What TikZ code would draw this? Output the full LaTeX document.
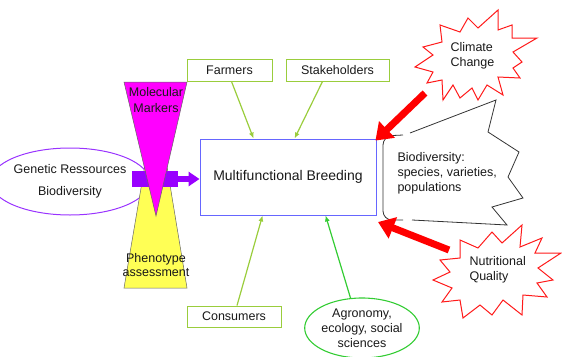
\documentclass[tikz,border=0pt]{standalone}
\usepackage{fontspec}
\setmainfont{Liberation Sans}
\usetikzlibrary{arrows.meta,shapes.geometric}
\definecolor{lgreen}{HTML}{9ACD3C}
\definecolor{bgreen}{HTML}{33CC33}
\definecolor{mblue}{HTML}{6666FF}
\definecolor{epurple}{HTML}{9933FF}
\definecolor{bpurple}{HTML}{9900FF}
\definecolor{mag}{HTML}{FF00FF}
\definecolor{yel}{HTML}{FFFF55}
\definecolor{rred}{HTML}{FF1A1A}
\tikzset{
  lbl/.style={font=\fontsize{12.5}{15}\selectfont, text=black!90},
  gbox/.style={draw=lgreen, line width=0.9pt, rectangle, lbl, inner sep=0pt},
  garrow/.style={draw=lgreen, line width=1.2pt, -{Latex[length=6pt,width=5pt]}},
  redarrow/.style={draw=red, line width=7pt, -{Triangle[length=16pt,width=22pt]}},
  burst/.style={draw=rred, line width=1pt, fill=white, line join=miter},
}
\begin{document}
\begin{tikzpicture}[x=1pt,y=-1pt]
\useasboundingbox (0,0) rectangle (562,356);

% main box
\node[draw=mblue, line width=0.9pt, minimum width=176pt, minimum height=76pt, inner sep=0pt,
      font=\fontsize{14}{17}\selectfont, text=black!90] (main) at (288,177) {Multifunctional Breeding};

% top boxes
\node[gbox, minimum width=85pt, minimum height=22pt] (farmers) at (229.5,70) {Farmers};
\node[gbox, minimum width=103pt, minimum height=22pt] (stake) at (337.5,70) {Stakeholders};
% bottom
\node[gbox, minimum width=94pt, minimum height=21pt] (cons) at (234,316.5) {Consumers};
\node[ellipse, draw=bgreen, line width=1.1pt, minimum width=108pt, minimum height=60pt, inner sep=0pt,
      lbl, align=center] (agro) at (362,328) {Agronomy,\\ecology, social\\sciences};

% green arrows
\draw[garrow] ([xshift=2pt]farmers.south) -- ([xshift=54pt]main.north west);
\draw[garrow] ([xshift=-15pt]stake.south) -- ([xshift=95pt]main.north west);
\draw[garrow] ([xshift=3pt]cons.north) -- ([xshift=63pt]main.south west);
\draw[draw=bgreen, line width=1.2pt, -{Latex[length=6pt,width=5pt]}] (agro.111) -- ([xshift=126pt]main.south west);

% genetic ellipse
\node[ellipse, draw=epurple, line width=1pt, minimum width=126pt, minimum height=67pt, inner sep=0pt,
      font=\fontsize{12.5}{22}\selectfont, text=black!90, align=center] (gen) at (70,181.5) {Genetic Ressources\\Biodiversity};

% yellow triangle
\filldraw[fill=yel, draw=black!60, line width=0.5pt] (124,288) -- (187,288) -- (156,100) -- cycle;
% purple bar and arrow
\node[fill=bpurple, minimum width=46pt, minimum height=16pt, inner sep=0pt] (bar) at (155,179) {};
\draw[draw=bpurple, line width=6pt, -{Triangle[length=11pt,width=14pt]}] (bar.east) -- (bar.east -| main.west);
% magenta triangle
\filldraw[fill=mag, draw=black!60, line width=0.5pt] (124,82) -- (187,82) -- (156,216) -- cycle;

\node[lbl, align=center, font=\fontsize{12.5}{16}\selectfont] (mol) at (156,100) {Molecular\\Markers};
\node[lbl, align=center, font=\fontsize{12.5}{14}\selectfont] (phen) at (156,265) {Phenotype\\assessment};

% callout
\draw[black!80, line width=0.8pt, rounded corners=9pt] (403,135) -- (383,136) -- (383,220) -- (403,220);
\draw[black!80, line width=0.8pt] (410,133) -- (496,100) -- (488,132) -- (519,152) -- (508,177) -- (523,198)
   -- (492,207) -- (507,225) -- (412,220);
\node[lbl, align=left, anchor=west] (biotext) at (394,173) {Biodiversity:\\species, varieties,\\populations};

% climate burst
\filldraw[burst] (415,67) -- (433,55) -- (423,47) -- (442,42) -- (440,25) -- (460,32) -- (468,18) -- (478,28)
  -- (498,10) -- (498,30) -- (512,25) -- (512,38) -- (537,38) -- (513,52) -- (522,62) -- (513,68) -- (520,78)
  -- (498,77) -- (503,95) -- (487,85) -- (478,100) -- (472,88) -- (460,98) -- (453,85) -- (443,100) -- (442,80)
  -- (427,83) -- (433,72) -- cycle;
\node[lbl, align=left, anchor=west] (climate) at (447,55.5) {Climate\\Change};

% nutritional burst
\filldraw[burst] (440,260) -- (460,258) -- (460,240) -- (478,248) -- (492,232) -- (502,243) -- (522,225)
  -- (520,247) -- (542,238) -- (535,253) -- (561,253) -- (538,268) -- (553,280) -- (537,283) -- (547,297)
  -- (523,295) -- (522,315) -- (503,300) -- (492,315) -- (480,305) -- (463,318) -- (460,300) -- (442,302)
  -- (452,288) -- (433,280) -- (450,272) -- cycle;
\node[lbl, align=left, anchor=west] (nutri) at (466,269.5) {Nutritional\\Quality};

% red arrows
\coordinate (cstart) at (425,93);
\coordinate (nstart) at (449,250);
\coordinate (ntip) at (378,222);
\draw[redarrow] (cstart) -- ([shift={(-1pt,-2pt)}]main.north east);
\draw[redarrow] (nstart) -- (ntip);
\end{tikzpicture}
\end{document}
